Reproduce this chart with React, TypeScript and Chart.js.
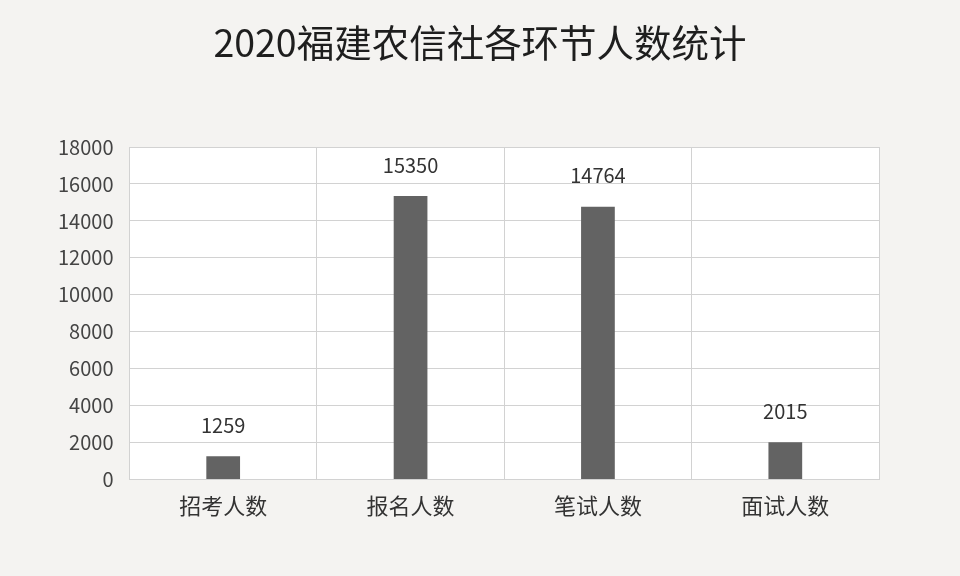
import { useEffect, useRef } from "react";
import { Chart, registerables } from "chart.js";

Chart.register(...registerables);

const categories = ["招考人数", "报名人数", "笔试人数", "面试人数"];
const counts = [1259, 15350, 14764, 2015];
const yTicks = [0, 2000, 4000, 6000, 8000, 10000, 12000, 14000, 16000, 18000];

const FONT = "'Noto Sans CJK SC', 'Noto Sans', sans-serif";
const PAGE_BG = "#f4f3f1";

// white plot area + title + value labels above bars
const decor = {
  id: "decor",
  beforeDraw(chart: any) {
    const { ctx, chartArea: a, width } = chart;
    ctx.save();
    ctx.fillStyle = "#ffffff";
    ctx.fillRect(a.left, a.top, a.right - a.left, a.bottom - a.top);
    ctx.fillStyle = "#1e1e1e";
    ctx.font = `37.5px ${FONT}`;
    ctx.textAlign = "center";
    ctx.textBaseline = "middle";
    ctx.fillText("2020福建农信社各环节人数统计", width / 2, 43);
    ctx.restore();
  },
  afterDatasetsDraw(chart: any) {
    const { ctx } = chart;
    const meta = chart.getDatasetMeta(0);
    ctx.save();
    ctx.fillStyle = "#333333";
    ctx.font = `20px ${FONT}`;
    ctx.textAlign = "center";
    ctx.textBaseline = "middle";
    meta.data.forEach((bar: any, i: number) => {
      ctx.fillText(String(counts[i]), bar.x, bar.y - 31);
    });
    ctx.restore();
  },
};

export default function App() {
  const canvasRef = useRef<HTMLCanvasElement>(null);

  useEffect(() => {
    document.body.style.margin = "0";
    document.body.style.background = PAGE_BG;
    if (!canvasRef.current) return;
    const chart = new Chart(canvasRef.current, {
      type: "bar",
      data: {
        labels: categories,
        datasets: [
          {
            data: counts,
            backgroundColor: "#636363",
            barPercentage: 0.18,
            categoryPercentage: 1,
          },
        ],
      },
      options: {
        animation: false,
        responsive: false,
        layout: { padding: { top: 147, left: 42, right: 81, bottom: 44 } },
        plugins: {
          legend: { display: false },
          title: { display: false },
          tooltip: { enabled: false },
        },
        scales: {
          x: {
            grid: { color: "#d2d2d2", offset: true, drawTicks: false },
            border: { color: "#d2d2d2" },
            ticks: { color: "#333", font: { family: FONT, size: 22 }, padding: 13 },
          },
          y: {
            min: 0,
            max: 18000,
            afterBuildTicks: (axis: any) => {
              axis.ticks = yTicks.map((v) => ({ value: v }));
            },
            grid: { color: "#d2d2d2", drawTicks: false },
            border: { display: false },
            ticks: {
              color: "#444",
              font: { family: FONT, size: 20 },
              padding: 16,
              callback: (v: any) => String(v),
            },
          },
        },
      },
      plugins: [decor],
    });
    return () => chart.destroy();
  }, []);

  return (
    <div style={{ width: 960, height: 576, background: PAGE_BG }}>
      <canvas ref={canvasRef} width={960} height={576} />
    </div>
  );
}
